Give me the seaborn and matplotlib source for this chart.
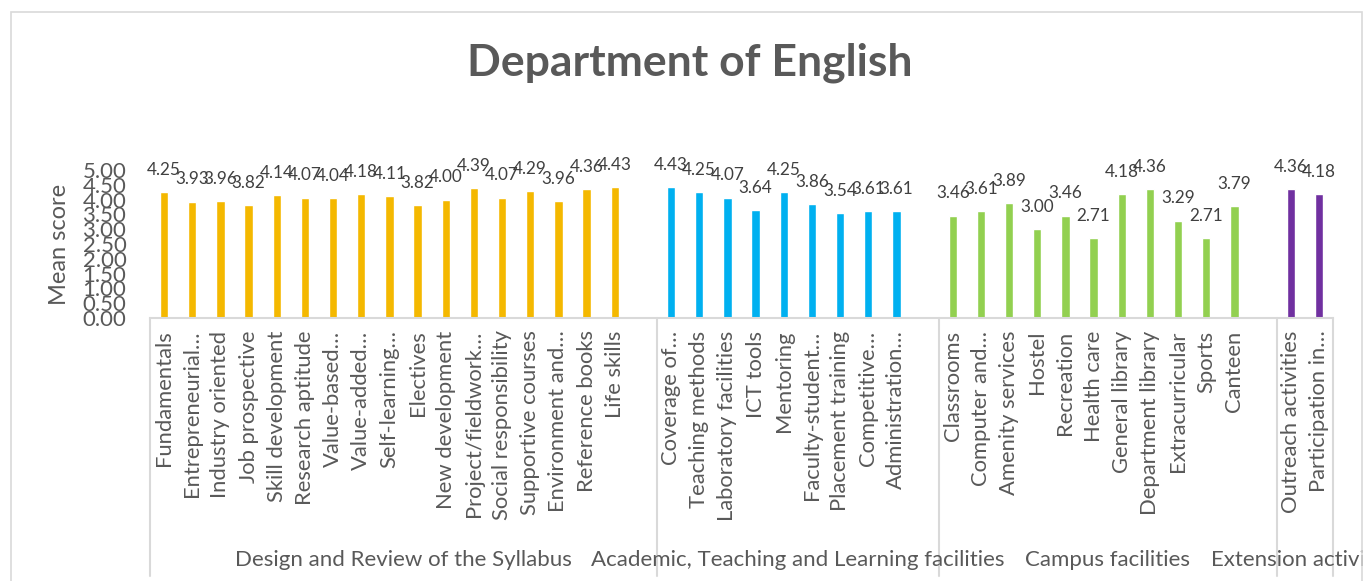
import pandas as pd
import numpy as np
import matplotlib
matplotlib.use("Agg")
import matplotlib.pyplot as plt
import matplotlib.transforms as mtransforms
from matplotlib.patches import Rectangle
import seaborn as sns

# Data
syllabus_items = ["Fundamentals", "Entrepreneurial…", "Industry oriented", "Job prospective",
                  "Skill development", "Research aptitude", "Value-based…", "Value-added…",
                  "Self-learning…", "Electives", "New development", "Project/fieldwork…",
                  "Social responsibility", "Supportive courses", "Environment and…",
                  "Reference books", "Life skills"]
syllabus_scores = [4.25, 3.93, 3.96, 3.82, 4.14, 4.07, 4.04, 4.18, 4.11, 3.82, 4.00, 4.39,
                   4.07, 4.29, 3.96, 4.36, 4.43]

academic_items = ["Coverage of…", "Teaching methods", "Laboratory facilities", "ICT tools",
                  "Mentoring", "Faculty-student…", "Placement training", "Competitive…",
                  "Administration…"]
academic_scores = [4.43, 4.25, 4.07, 3.64, 4.25, 3.86, 3.54, 3.61, 3.61]

campus_items = ["Classrooms", "Computer and…", "Amenity services", "Hostel", "Recreation",
                "Health care", "General library", "Department library", "Extracurricular",
                "Sports", "Canteen"]
campus_scores = [3.46, 3.61, 3.89, 3.00, 3.46, 2.71, 4.18, 4.36, 3.29, 2.71, 3.79]

extension_items = ["Outreach activities", "Participation in…"]
extension_scores = [4.36, 4.18]

group_names = ["Design and Review of the Syllabus",
               "Academic, Teaching and Learning facilities",
               "Campus facilities", "Extension activities"]
group_colors = ["#F4B800", "#00B0F0", "#92D050", "#7030A0"]

groups = [(syllabus_items, syllabus_scores), (academic_items, academic_scores),
          (campus_items, campus_scores), (extension_items, extension_scores)]

# build table: each group followed by one empty slot (except the last), like the Excel sheet
rows = []
bounds = [-0.5]
pos = 0
for gi, (items, scores) in enumerate(groups):
    for it, sc in zip(items, scores):
        rows.append({"pos": pos, "item": it, "score": sc, "group": group_names[gi]})
        pos += 1
    if gi < len(groups) - 1:
        pos += 1
    bounds.append(pos - 0.5)
df = pd.DataFrame(rows)

sns.set_theme(style="white")
plt.rcParams["font.family"] = ["Lato", "DejaVu Sans"]

fig = plt.figure(figsize=(13.63, 5.81), dpi=100)
ax = fig.add_axes([150 / 1363, 1 - 318 / 581, 1183 / 1363, 148 / 581])

sns.barplot(data=df, x="pos", y="score", hue="group", palette=group_colors,
            hue_order=group_names, native_scale=True, dodge=False, width=0.29,
            legend=False, ax=ax, saturation=1)

ax.set_xlim(-0.5, pos - 0.5)
ax.set_ylim(0, 5)
ax.set_yticks(np.arange(0, 5.01, 0.5))
ax.set_yticklabels([f"{v:.2f}" for v in np.arange(0, 5.01, 0.5)])
ax.tick_params(axis="y", labelsize=16, labelcolor="#595959", length=0, pad=17)
ax.set_xticks(df["pos"])
ax.set_xticklabels(df["item"], rotation=90, va="top", ha="center")
ax.tick_params(axis="x", labelsize=15.8, labelcolor="#595959", length=0, pad=9)
ax.set_xlabel("")
ax.set_ylabel("Mean score", fontsize=17, color="#595959", labelpad=9)

for s in ["top", "right", "left"]:
    ax.spines[s].set_visible(False)
ax.spines["bottom"].set_color("#D9D9D9")
ax.spines["bottom"].set_linewidth(1.5)

# value labels
for p, v in zip(df["pos"], df["score"]):
    ax.annotate(f"{v:.2f}", (p, v), xytext=(0, 16), textcoords="offset points",
                ha="center", va="center", fontsize=12.3, color="#404040")

# multi-level axis separators and group labels
trans = mtransforms.blended_transform_factory(ax.transData, ax.transAxes)
for b in bounds:
    ax.plot([b, b], [0, -1.74], transform=trans, color="#D9D9D9", lw=1.5, clip_on=False)
for gi, name in enumerate(group_names):
    mid = (bounds[gi] + bounds[gi + 1]) / 2
    ax.text(mid, -1.635, name, transform=trans, ha="center", va="center",
            fontsize=16, color="#595959", clip_on=False)

fig.text(690 / 1363, 1 - 63 / 581, "Department of English", ha="center", va="center",
         fontsize=32, fontweight="bold", color="#595959")

# chart area border
fig.patches.append(Rectangle((11 / 1363, -0.01), 1351 / 1363, (581 - 12) / 581 + 0.01,
                             transform=fig.transFigure, fill=False, edgecolor="#D9D9D9",
                             lw=1.2))

fig.savefig("out.png", dpi=100)
